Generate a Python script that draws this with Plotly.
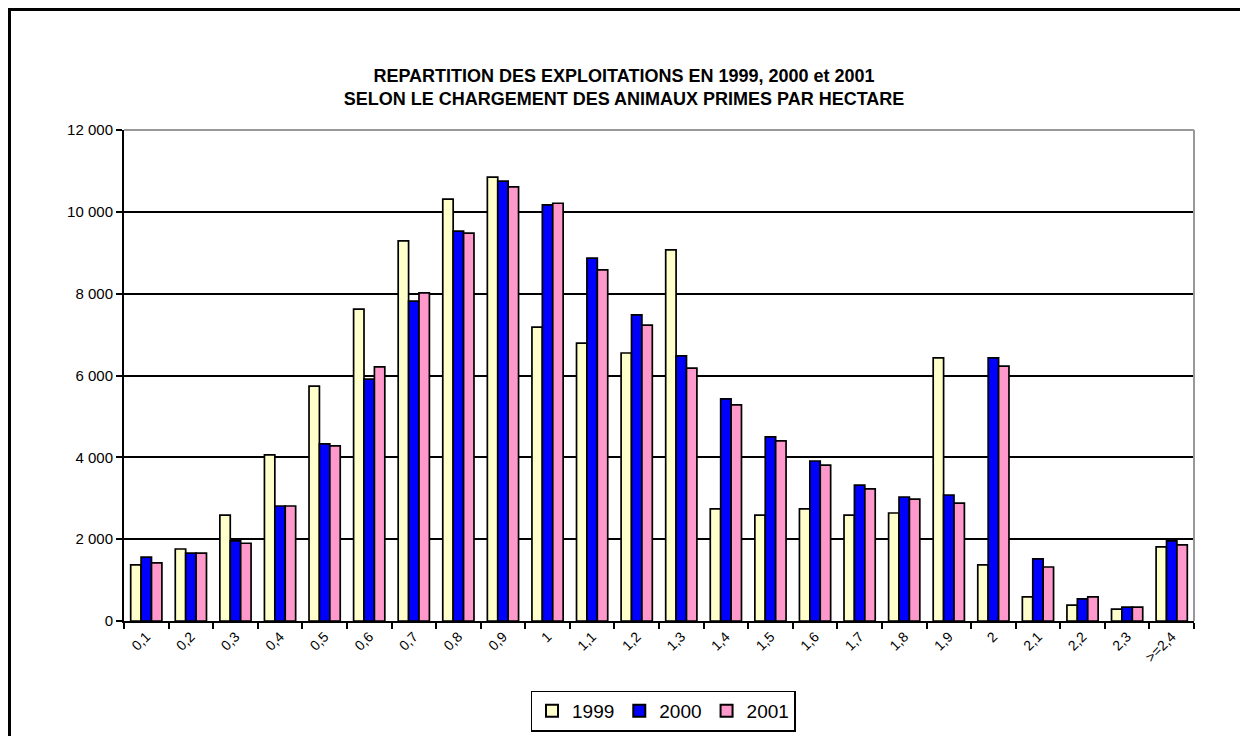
import plotly.graph_objects as go

categories = ["0,1", "0,2", "0,3", "0,4", "0,5", "0,6", "0,7", "0,8", "0,9", "1",
              "1,1", "1,2", "1,3", "1,4", "1,5", "1,6", "1,7", "1,8", "1,9", "2",
              "2,1", "2,2", "2,3", ">=2,4"]
v1999 = [1370, 1760, 2590, 4060, 5740, 7620, 9290, 10310, 10850, 7180,
         6790, 6550, 9070, 2740, 2590, 2740, 2590, 2640, 6430, 1370,
         590, 390, 290, 1810]
v2000 = [1560, 1660, 1960, 2810, 4330, 5910, 7820, 9530, 10750, 10170,
         8870, 7480, 6480, 5430, 4500, 3910, 3320, 3030, 3080, 6430,
         1520, 540, 340, 1960]
v2001 = [1420, 1660, 1900, 2810, 4280, 6210, 8020, 9480, 10610, 10210,
         8580, 7230, 6180, 5280, 4400, 3810, 3230, 2980, 2880, 6230,
         1320, 590, 340, 1860]
series_names = ["1999", "2000", "2001"]
colors = ["#FFFFCC", "#0000FF", "#FF99CC"]

OFF = 8  # default page body margin
W, H = 1240, 728
# plot area in screen pixels
L, R, T, B = 124 - OFF, 1194 - OFF, 130 - OFF, 621 - OFF

fig = go.Figure()
for name, vals, col in zip(series_names, [v1999, v2000, v2001], colors):
    fig.add_trace(go.Bar(x=categories, y=vals, name=name,
                         marker=dict(color=col, line=dict(color="black", width=1.7))))

pw = R - L
ph = B - T
def px(x):
    return (x - OFF - L) / pw
def py(y):
    return (B - (y - OFF)) / ph

fig.update_layout(
    width=W, height=H,
    margin=dict(l=L, r=W - R, t=T, b=H - B, autoexpand=False),
    paper_bgcolor="white", plot_bgcolor="white",
    separators=", ",
    font=dict(family="Liberation Sans, Arial, sans-serif", color="black", size=15),
    title=dict(text="<b>REPARTITION DES EXPLOITATIONS EN 1999, 2000 et 2001<br>SELON LE CHARGEMENT DES ANIMAUX PRIMES PAR HECTARE</b>",
               x=(624 - OFF) / W, xref="container", xanchor="center",
               y=1 - (82 - OFF) / H, yref="container", yanchor="middle",
               font=dict(size=18, family="Liberation Sans, Arial, sans-serif")),
    barmode="group", bargap=0.3, bargroupgap=0.0,
    showlegend=True,
    legend=dict(orientation="h", x=(663 - OFF) / W, xref="container", xanchor="center",
                y=1 - (711 - OFF) / H, yref="container", yanchor="middle",
                bordercolor="black", borderwidth=1.5, bgcolor="white",
                font=dict(size=19), itemwidth=30, traceorder="normal",
                itemsizing="constant"),
    xaxis=dict(type="category", tickson="boundaries", ticks="outside", ticklen=6,
               tickwidth=1.5, tickcolor="black", showline=True, linecolor="black",
               linewidth=2, tickangle=-45, showgrid=False, zeroline=False,
               tickfont=dict(size=14)),
    yaxis=dict(range=[0, 12000], tickvals=[0, 2000, 4000, 6000, 8000, 10000, 12000],
               tickformat=",d", ticks="outside", ticklen=6, tickwidth=1.5,
               tickcolor="black", showline=True, linecolor="black", linewidth=2,
               showgrid=True, gridcolor="black", gridwidth=1.5, zeroline=False,
               tickfont=dict(size=15)),
)

# plot-area border (gray top and right)
fig.add_shape(type="line", xref="paper", yref="paper", x0=0, x1=1, y0=1, y1=1,
              line=dict(color="#999999", width=2))
fig.add_shape(type="line", xref="paper", yref="paper", x0=1, x1=1, y0=0, y1=1,
              line=dict(color="#999999", width=2))
# chart outer border
fig.add_shape(type="rect", xref="paper", yref="paper",
              x0=px(9.5), x1=px(1270), y0=py(760), y1=py(9.5),
              line=dict(color="black", width=3), layer="above")

fig.write_html("out.html")
